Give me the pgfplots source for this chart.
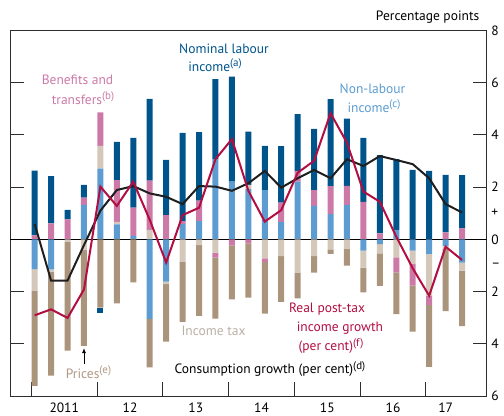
\documentclass[border=0pt]{standalone}
\usepackage{pgfplots}
\pgfplotsset{compat=1.18}
\usepackage{pgfplotstable}
\usetikzlibrary{arrows.meta}
\usepackage{fontspec}
\setmainfont{PT Sans}
\definecolor{lab}{RGB}{0,84,140}
\definecolor{nonlab}{RGB}{93,156,209}
\definecolor{ben}{RGB}{204,121,167}
\definecolor{tax}{RGB}{212,200,186}
\definecolor{pri}{RGB}{170,148,124}
\definecolor{crim}{RGB}{178,14,66}
\definecolor{taxtext}{RGB}{185,176,166}
\definecolor{pritext}{RGB}{176,152,130}
\definecolor{frame}{RGB}{45,45,45}
\newcommand{\sups}[1]{\raisebox{4.5bp}{\fontsize{11bp}{12bp}\selectfont(#1)}}

\pgfplotstableread{
i NL TX BN PR LB cons inc
0 -1.14 -0.83 0.15 -3.64 2.48 0.59 -2.91
1 -1.15 -0.09 0.61 -3.98 1.81 -1.58 -2.68
2 0 -0.10 0.77 -4.16 0.36 -1.58 -3.01
3 1.32 -0.41 0.28 -3.67 0.49 -0.22 -1.92
4 2.71 0.87 1.28 -2.61 -0.20 1.10 2.02
5 0.57 0.10 1.60 -2.45 1.46 1.89 1.28
6 0.13 0 1.09 -1.65 2.67 2.04 2.21
7 -3.05 0.36 1.89 -1.85 3.13 1.76 0.75
8 -1.62 -0.09 0.93 -2.21 2.11 1.63 -0.89
9 0.59 -0.86 0.11 -2.30 3.38 1.35 0.93
10 0.70 -0.22 0.78 -2.71 2.63 2.04 1.21
11 3.07 -0.51 -0.19 -2.34 3.07 2.02 3.07
12 2.21 0 -0.23 -2.07 4.02 1.86 3.84
13 1.92 0.17 -0.15 -2.08 2.04 2.15 1.86
14 1.89 -0.73 -0.13 -1.98 1.69 2.62 0.68
15 0.66 -0.64 0.75 -1.75 2.16 1.98 1.12
16 2.21 -1.28 0.41 -0.98 2.18 2.34 2.55
17 1.28 -0.64 0.61 -0.63 2.34 2.66 3.01
18 0.97 -0.38 1.07 -0.18 3.33 2.34 4.83
19 1.32 -0.37 0.73 -0.64 2.57 3.07 3.70
20 -0.43 -0.65 1.44 -0.95 2.45 2.81 1.83
21 -0.18 -0.36 0.23 -1.24 3.00 3.19 1.44
22 0.36 -0.69 -0.57 -1.60 2.71 3.04 0.10
23 -0.43 -0.51 -0.83 -1.76 2.66 2.88 -1.11
24 -0.56 -1.60 -0.36 -2.36 2.62 2.34 -2.16
25 -0.25 -0.10 0.27 -2.40 2.20 1.35 -0.28
26 -0.89 -0.31 0.42 -2.12 2.04 1.03 -0.79
}\data

\begin{document}
\fontsize{13.5bp}{16bp}\selectfont
\begin{tikzpicture}[x=1bp,y=1bp]
\useasboundingbox (-10,-19) rectangle (494,396);
\pgfplotsset{
  common/.style={
    at={(0,0)}, anchor=south west, scale only axis,
    width=476.7bp, height=365.5bp,
    xmin=-1.5, xmax=27.5, ymin=-6, ymax=8,
  },
  bars/.style={common, ybar stacked, bar width=6bp},
}
% positive stack + frame
\begin{axis}[bars,
  axis line style={frame, line width=0.9pt},
  tick style={frame, line width=0.9pt},
  tick align=inside, major tick length=14bp,
  xtick={-0.2,3.8,7.8,11.8,15.8,19.8,23.8}, xticklabels={}, xtick pos=left,
  ytick={-6,-4,-2,0,2,4,6,8}, yticklabels={6,4,2,0,2,4,6,8},
  ytick pos=both, yticklabel pos=right,
  extra y ticks={-1,1}, extra y tick labels={–,+},
  extra y tick style={major tick length=0pt},
  yticklabel style={anchor=west, font=\fontsize{13.5bp}{16bp}\selectfont},
  y filter/.expression={y>0 ? y : 0},
]
\addplot[fill=nonlab, draw=none] table[x=i,y=NL]{\data};
\addplot[fill=tax, draw=none] table[x=i,y=TX]{\data};
\addplot[fill=ben, draw=none] table[x=i,y=BN]{\data};
\addplot[fill=pri, draw=none] table[x=i,y=PR]{\data};
\addplot[fill=lab, draw=none] table[x=i,y=LB]{\data};
\end{axis}
% negative stack
\begin{axis}[bars, hide axis, y filter/.expression={y<0 ? y : 0}]
\addplot[fill=nonlab, draw=none] table[x=i,y=NL]{\data};
\addplot[fill=tax, draw=none] table[x=i,y=TX]{\data};
\addplot[fill=ben, draw=none] table[x=i,y=BN]{\data};
\addplot[fill=pri, draw=none] table[x=i,y=PR]{\data};
\addplot[fill=lab, draw=none] table[x=i,y=LB]{\data};
\draw[black, line width=0.9pt] (axis cs:-1.5,0) -- (axis cs:27.5,0);
\end{axis}
% lines
\begin{axis}[common, hide axis, clip=false]
\addplot[color={black!88}, line width=2bp, mark=none] table[x=i,y=cons]{\data};
\addplot[color=crim, line width=2bp, mark=none] table[x=i,y=inc]{\data};
\node[yshift=-11.5bp] at (axis cs:1.8,-6) {2011};
\node[yshift=-11.5bp] at (axis cs:5.8,-6) {12};
\node[yshift=-11.5bp] at (axis cs:9.8,-6) {13};
\node[yshift=-11.5bp] at (axis cs:13.8,-6) {14};
\node[yshift=-11.5bp] at (axis cs:17.8,-6) {15};
\node[yshift=-11.5bp] at (axis cs:21.8,-6) {16};
\node[yshift=-11.5bp] at (axis cs:25.0,-6) {17};
\end{axis}
% annotations (picture coords: X = px-10, Y = 396-py)
\node[anchor=east] at (474,379) {Percentage points};
\node[lab] at (214,347) {Nominal labour};
\node[lab] at (205,331) {income\sups{a}};
\node[ben] at (67.5,316) {Benefits and};
\node[ben] at (73,298) {transfers\sups{b}};
\node[nonlab] at (362.5,307) {Non-labour};
\node[nonlab] at (364,290) {income\sups{c}};
\node[taxtext] at (203.5,65) {Income tax};
\node[crim] at (317,87) {Real post-tax};
\node[crim] at (330,68) {income growth};
\node[crim] at (321,50) {(per cent)\sups{f}};
\node[black] at (260,27) {Consumption growth (per cent)\sups{d}};
\node[pritext] at (78.5,24) {Prices\sups{e}};
\draw[black, line width=0.9pt, -{Latex[length=5bp,width=4bp]}] (74,32) -- (74,48);
\end{tikzpicture}
\end{document}
